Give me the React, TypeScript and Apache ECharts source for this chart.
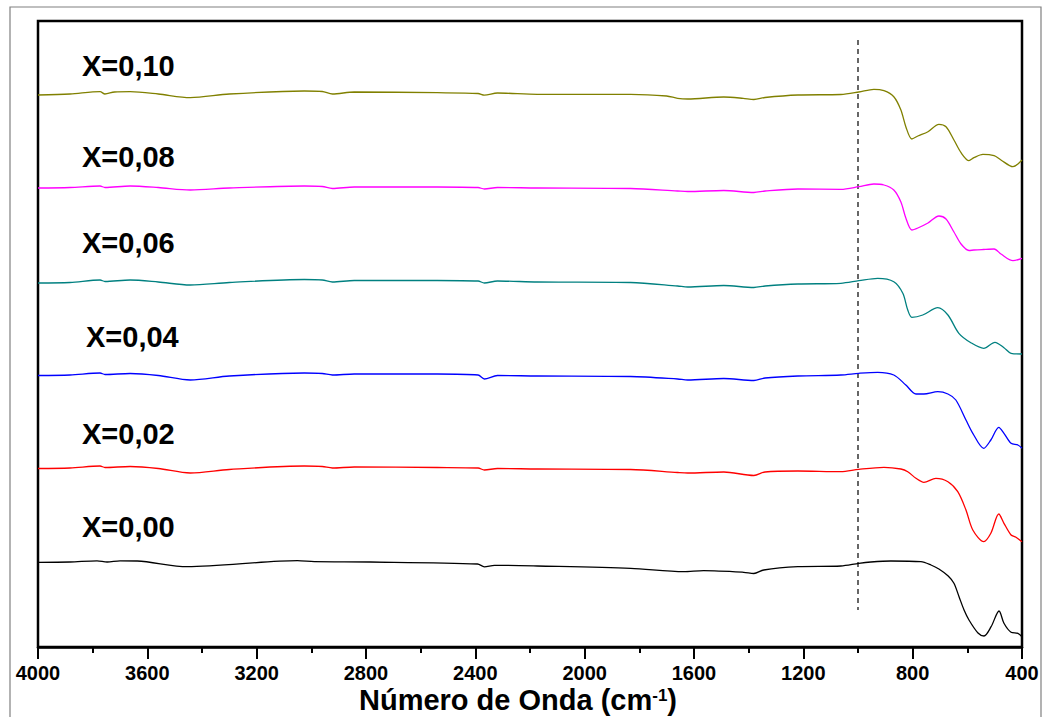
import React, { useEffect, useRef } from "react";
import * as echarts from "echarts";

// FTIR spectra, offset vertically (arbitrary transmittance units), wavenumber in cm-1
const xTicks = { min: 400, max: 4000, step: 400 };
const labels = ["X=0,10", "X=0,08", "X=0,06", "X=0,04", "X=0,02", "X=0,00"];
const colors = ["#808000", "#ff00ff", "#008080", "#0000ff", "#ff0000", "#000000"];

const s010: [number, number][] = [
  [4000, 552], [3883, 553], [3773, 555.3], [3755, 553], [3720, 555], [3663, 555.3], [3560, 553],
  [3443, 549.3], [3300, 553], [3026, 556], [2960, 555.5], [2923, 553], [2843, 555], [2539, 554.3],
  [2390, 553.5], [2367, 551.8], [2319, 554], [2173, 552.7], [1832, 552.7], [1700, 551], [1660, 548.7],
  [1623, 548], [1491, 550], [1420, 548.7], [1381, 547.5], [1340, 549.5], [1220, 552], [1063, 552.5],
  [997, 555], [942, 557.7], [905, 556.3], [869, 550.3], [843, 537], [825, 520.3], [803, 508], [781, 511],
  [744, 515.3], [704, 522.7], [678, 520.3], [649, 507], [623, 494.3], [594, 486.3], [576, 489.3],
  [543, 492.7], [502, 491.3], [477, 487], [433, 480.3], [400, 487],
];

const s008: [number, number][] = [
  [4000, 459], [3883, 459.5], [3773, 461], [3755, 459.5], [3663, 461], [3560, 459.5], [3443, 457],
  [3300, 459], [3026, 461], [2960, 460.5], [2923, 458.5], [2843, 460], [2539, 460], [2390, 459.5],
  [2367, 458], [2319, 459.5], [2173, 459], [1832, 458.5], [1660, 456], [1623, 455.5], [1491, 456.5],
  [1381, 454.5], [1340, 456], [1220, 458], [1063, 457.7], [997, 460.3], [942, 463], [905, 462],
  [869, 457], [843, 445], [825, 429], [803, 417], [781, 419], [744, 424], [704, 431], [678, 428],
  [649, 415], [623, 403], [594, 396.5], [576, 397], [543, 397.5], [502, 398], [477, 393], [433, 386.3],
  [400, 388.7],
];

const s006: [number, number][] = [
  [4000, 364], [3883, 364.5], [3773, 367], [3755, 365.5], [3663, 367], [3560, 365], [3443, 362],
  [3300, 364.5], [3026, 367.5], [2960, 367], [2923, 365], [2843, 366.5], [2539, 366.5], [2390, 366],
  [2367, 364], [2319, 366], [2173, 365], [1832, 364.5], [1660, 361], [1623, 360], [1491, 361.5],
  [1381, 359.5], [1340, 361], [1220, 363], [1063, 363.7], [997, 366.3], [928, 368.7], [869, 365.3],
  [836, 353.7], [818, 337], [803, 329.7], [763, 332], [708, 339.3], [671, 332], [631, 313.7],
  [587, 304.3], [540, 298.7], [499, 304.7], [466, 299.3], [440, 293.7], [400, 293],
];

const s004: [number, number][] = [
  [4000, 271.5], [3883, 272], [3773, 274], [3755, 272.5], [3663, 273.5], [3560, 271.5], [3443, 267],
  [3300, 271], [3026, 274], [2960, 273.5], [2923, 272], [2843, 273], [2539, 273], [2390, 272],
  [2367, 268], [2319, 271.5], [2173, 271], [1832, 270.5], [1660, 268], [1623, 267], [1491, 268.5],
  [1381, 266.5], [1340, 269], [1220, 271], [1063, 272], [997, 273.7], [928, 274.7], [869, 272],
  [825, 262], [788, 253], [759, 253], [708, 255.3], [671, 253], [642, 247], [605, 227], [580, 213.7],
  [540, 198.7], [514, 207], [485, 219.7], [466, 213.7], [440, 203.7], [415, 202], [400, 198.7],
];

const s002: [number, number][] = [
  [4000, 178.5], [3883, 179], [3773, 181], [3755, 179.5], [3663, 180.5], [3560, 178.5], [3443, 174],
  [3300, 177.5], [3026, 181], [2960, 180.5], [2923, 179], [2843, 180], [2539, 179.5], [2390, 179],
  [2367, 177], [2319, 178.5], [2173, 178], [1832, 177.5], [1660, 174.5], [1623, 174], [1491, 175],
  [1381, 171.5], [1340, 175], [1220, 176], [1063, 175.3], [997, 177.7], [905, 179.7], [843, 178],
  [818, 175.3], [788, 168.7], [759, 164.7], [715, 168.7], [671, 165.3], [635, 155.3], [605, 137],
  [580, 117], [540, 105.3], [514, 113.7], [485, 133], [466, 123.7], [440, 112], [422, 109.7], [400, 105.3],
];

const s000: [number, number][] = [
  [4000, 84.7], [3883, 85], [3784, 86.2], [3747, 85], [3700, 86.2], [3637, 86], [3454, 80.3],
  [3051, 86.3], [2989, 85.3], [2784, 85], [2392, 83], [2367, 80.2], [2330, 81.7], [2173, 81],
  [1832, 78.7], [1638, 75.3], [1565, 76.3], [1418, 74.7], [1381, 73.5], [1345, 77], [1220, 80.3],
  [1063, 81], [997, 83.7], [953, 85], [880, 86], [770, 85.3], [733, 82], [704, 78], [670, 71],
  [649, 63.7], [630, 50], [612, 37], [594, 27], [561, 14], [539, 11], [513, 20.3], [484, 36], [466, 23.7],
  [440, 14.7], [415, 13.7], [400, 10.3],
];

const spectra = [s010, s008, s006, s004, s002, s000];

// vertical reference marker at 1000 cm-1
const marker: [number, number][] = [[1000, 607], [1000, 37]];

const labelPos: [number, number][] = [[82, 66], [82, 157], [82, 243], [86, 337], [82, 434], [82, 527]];

const FONT = '"Liberation Sans", Arial, sans-serif';

export default function App() {
  const ref = useRef<HTMLDivElement>(null);

  useEffect(() => {
    if (!ref.current) return;
    const chart = echarts.init(ref.current, undefined, { renderer: "svg" });

    const series: any[] = spectra.map((d, i) => ({
      name: labels[i],
      type: "line",
      data: d,
      showSymbol: false,
      smooth: 0.3,
      lineStyle: { color: colors[i], width: 1.3 },
      z: 3,
    }));
    series.push({
      type: "line",
      data: marker,
      showSymbol: false,
      lineStyle: { color: "#000", width: 1.2, type: [5, 4] },
      z: 2,
    });

    const graphics: any[] = [
      {
        type: "rect",
        shape: { x: 10, y: 7, width: 1031, height: 720 },
        style: { fill: "none", stroke: "#808080", lineWidth: 1.2 },
        silent: true,
      },
      ...labels.map((t, i) => ({
        type: "text",
        x: labelPos[i][0],
        y: labelPos[i][1],
        style: {
          text: t,
          font: `bold 29px ${FONT}`,
          fill: "#000",
          textAlign: "left",
          textVerticalAlign: "middle",
        },
      })),
      {
        type: "text",
        x: 518,
        y: 700,
        style: {
          text: "{a|Número de Onda (cm}{s|-1}{a|)}",
          textAlign: "center",
          textVerticalAlign: "middle",
          rich: {
            a: { fontFamily: FONT, fontWeight: "bold", fontSize: 29, fill: "#000", lineHeight: 26 },
            s: { fontFamily: FONT, fontWeight: "bold", fontSize: 17, fill: "#000", verticalAlign: "top", lineHeight: 14 },
          },
        },
      },
    ];

    chart.setOption({
      animation: false,
      backgroundColor: "#fff",
      grid: {
        left: 38,
        right: 21,
        top: 21,
        bottom: 70,
        show: true,
        borderColor: "#000",
        borderWidth: 2.5,
        backgroundColor: "transparent",
      },
      xAxis: {
        type: "value",
        min: xTicks.min,
        max: xTicks.max,
        interval: xTicks.step,
        inverse: true,
        axisLine: { show: true, lineStyle: { color: "#000", width: 2.5 } },
        axisTick: { show: true, inside: false, length: 12, lineStyle: { color: "#000", width: 2 } },
        minorTick: { show: true, splitNumber: 2, length: 6, lineStyle: { color: "#000", width: 2 } },
        splitLine: { show: false },
        axisLabel: {
          margin: 19,
          color: "#000",
          fontFamily: FONT,
          fontWeight: "bold",
          fontSize: 20,
          lineHeight: 14,
          formatter: (v: number) => String(v),
        },
      },
      yAxis: {
        type: "value",
        min: 0,
        max: 626,
        show: false,
      },
      series,
      graphic: graphics,
    });

    return () => chart.dispose();
  }, []);

  return (
    <div
      ref={ref}
      style={{ position: "fixed", left: 0, top: 0, width: 1043, height: 717, background: "#fff" }}
    />
  );
}
